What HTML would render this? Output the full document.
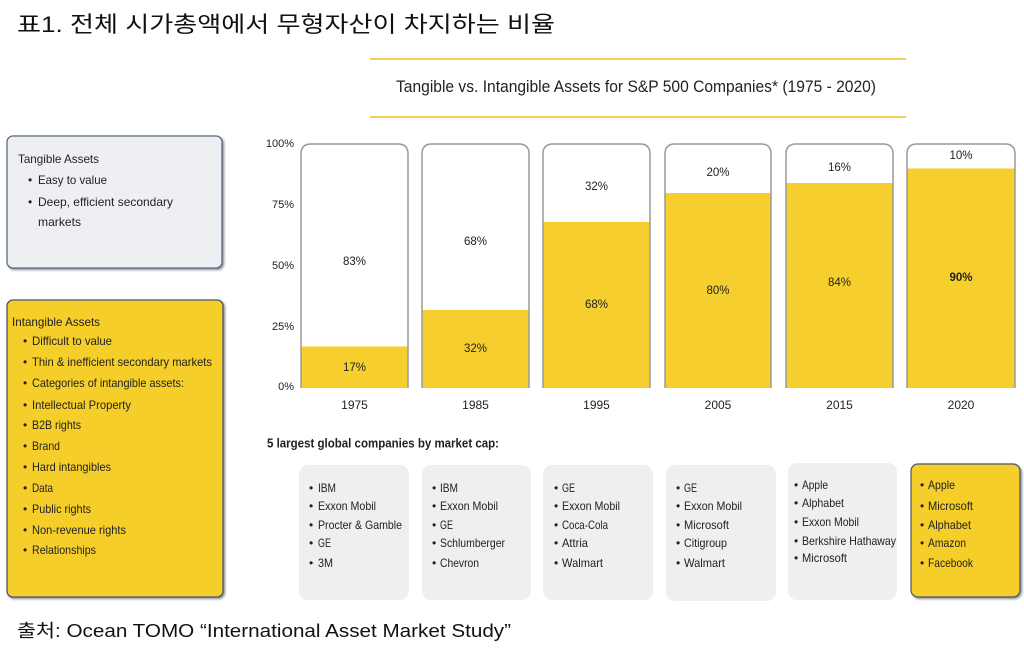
<!DOCTYPE html>
<html><head><meta charset="utf-8">
<style>
html,body{margin:0;padding:0;background:#fff;}
svg{display:block;}
.k{font-family:"Liberation Sans","Noto Sans CJK KR",sans-serif;}
.s{font-family:"Liberation Sans",sans-serif;}
</style></head><body>
<svg width="1024" height="655" viewBox="0 0 1024 655" xmlns="http://www.w3.org/2000/svg">
<defs>
<filter id="sh" x="-5%" y="-5%" width="110%" height="110%">
<feDropShadow dx="1.5" dy="1.5" stdDeviation="1" flood-color="#3a4558" flood-opacity="0.6"/>
</filter>
</defs>
<rect width="1024" height="655" fill="#fff"/>

<!-- page title -->
<text class="k" x="17" y="32" font-size="22" fill="#111" textLength="538" lengthAdjust="spacingAndGlyphs">표1. 전체 시가총액에서 무형자산이 차지하는 비율</text>

<!-- chart title -->
<line x1="370" y1="59" x2="906" y2="59" stroke="#F3CF55" stroke-width="2"/>
<line x1="370" y1="117" x2="906" y2="117" stroke="#F3CF55" stroke-width="2"/>
<text class="s" x="396" y="87" font-size="16.5" fill="#222" dominant-baseline="central" textLength="480" lengthAdjust="spacingAndGlyphs">Tangible vs. Intangible Assets for S&amp;P 500 Companies* (1975 - 2020)</text>

<!-- tangible box -->
<rect x="7" y="136" width="215" height="132" rx="6" fill="#EEEFF2" stroke="#5C6B80" stroke-width="1.3" filter="url(#sh)"/>
<g class="s" font-size="12" fill="#222" dominant-baseline="central">
<text x="18" y="159" textLength="81" lengthAdjust="spacingAndGlyphs">Tangible Assets</text>
<text x="28" y="180">•</text><text x="38" y="180" textLength="69" lengthAdjust="spacingAndGlyphs">Easy to value</text>
<text x="28" y="202">•</text><text x="38" y="202" textLength="135" lengthAdjust="spacingAndGlyphs">Deep, efficient secondary</text>
<text x="38" y="222" textLength="43" lengthAdjust="spacingAndGlyphs">markets</text>
</g>

<!-- intangible box -->
<rect x="7" y="300" width="216" height="297" rx="6" fill="#F6CE2C" stroke="#4E5566" stroke-width="1.3" filter="url(#sh)"/>
<g class="s" font-size="12" fill="#222" dominant-baseline="central">
<text x="12" y="322" textLength="88" lengthAdjust="spacingAndGlyphs">Intangible Assets</text>
<text x="23" y="341">•</text><text x="32" y="341" textLength="80" lengthAdjust="spacingAndGlyphs">Difficult to value</text>
<text x="23" y="362">•</text><text x="32" y="362" textLength="180" lengthAdjust="spacingAndGlyphs">Thin &amp; inefficient secondary markets</text>
<text x="23" y="383">•</text><text x="32" y="383" textLength="152" lengthAdjust="spacingAndGlyphs">Categories of intangible assets:</text>
<text x="23" y="405">•</text><text x="32" y="405" textLength="99" lengthAdjust="spacingAndGlyphs">Intellectual Property</text>
<text x="23" y="425">•</text><text x="32" y="425" textLength="49" lengthAdjust="spacingAndGlyphs">B2B rights</text>
<text x="23" y="446">•</text><text x="32" y="446" textLength="28" lengthAdjust="spacingAndGlyphs">Brand</text>
<text x="23" y="467">•</text><text x="32" y="467" textLength="79" lengthAdjust="spacingAndGlyphs">Hard intangibles</text>
<text x="23" y="488">•</text><text x="32" y="488" textLength="21" lengthAdjust="spacingAndGlyphs">Data</text>
<text x="23" y="509">•</text><text x="32" y="509" textLength="59" lengthAdjust="spacingAndGlyphs">Public rights</text>
<text x="23" y="530">•</text><text x="32" y="530" textLength="94" lengthAdjust="spacingAndGlyphs">Non-revenue rights</text>
<text x="23" y="550">•</text><text x="32" y="550" textLength="64" lengthAdjust="spacingAndGlyphs">Relationships</text>
</g>

<!-- y axis labels -->
<g class="s" font-size="11" fill="#222" text-anchor="end" dominant-baseline="central">
<text x="294" y="144">100%</text>
<text x="294" y="205">75%</text>
<text x="294" y="266">50%</text>
<text x="294" y="327">25%</text>
<text x="294" y="387">0%</text>
</g>

<!-- bars -->
<g>
<rect x="301" y="346.5" width="107" height="41.5" fill="#F6CF2E"/>
<path d="M301,388 V154 Q301,144 311,144 H398 Q408,144 408,154 V388" fill="none" stroke="#9a9a9a" stroke-width="1.5"/>
<rect x="422" y="310" width="107" height="78" fill="#F6CF2E"/>
<path d="M422,388 V154 Q422,144 432,144 H519 Q529,144 529,154 V388" fill="none" stroke="#9a9a9a" stroke-width="1.5"/>
<rect x="543" y="222" width="107" height="166" fill="#F6CF2E"/>
<path d="M543,388 V154 Q543,144 553,144 H640 Q650,144 650,154 V388" fill="none" stroke="#9a9a9a" stroke-width="1.5"/>
<rect x="665" y="193" width="106" height="195" fill="#F6CF2E"/>
<path d="M665,388 V154 Q665,144 675,144 H761 Q771,144 771,154 V388" fill="none" stroke="#9a9a9a" stroke-width="1.5"/>
<rect x="786" y="183" width="107" height="205" fill="#F6CF2E"/>
<path d="M786,388 V154 Q786,144 796,144 H883 Q893,144 893,154 V388" fill="none" stroke="#9a9a9a" stroke-width="1.5"/>
<rect x="907" y="168.5" width="108" height="219.5" fill="#F6CF2E"/>
<path d="M907,388 V154 Q907,144 917,144 H1005 Q1015,144 1015,154 V388" fill="none" stroke="#9a9a9a" stroke-width="1.5"/>
</g>

<!-- bar value labels -->
<g class="s" font-size="11.5" fill="#222" text-anchor="middle" dominant-baseline="central">
<text x="354.5" y="262">83%</text><text x="354.5" y="368">17%</text>
<text x="475.5" y="242">68%</text><text x="475.5" y="349">32%</text>
<text x="596.5" y="187">32%</text><text x="596.5" y="305">68%</text>
<text x="718" y="173">20%</text><text x="718" y="291">80%</text>
<text x="839.5" y="168">16%</text><text x="839.5" y="283">84%</text>
<text x="961" y="156">10%</text><text x="961" y="278" font-weight="bold">90%</text>
</g>

<!-- year labels -->
<g class="s" font-size="12" fill="#222" text-anchor="middle" dominant-baseline="central">
<text x="354.5" y="405">1975</text>
<text x="475.5" y="405">1985</text>
<text x="596.5" y="405">1995</text>
<text x="718" y="405">2005</text>
<text x="839.5" y="405">2015</text>
<text x="961" y="405">2020</text>
</g>

<text class="s" x="267" y="443" font-size="13" font-weight="bold" fill="#222" dominant-baseline="central" textLength="232" lengthAdjust="spacingAndGlyphs">5 largest global companies by market cap:</text>

<!-- company boxes -->
<rect x="299" y="465" width="110" height="135" rx="9" fill="#EFEFEF"/>
<rect x="422" y="465" width="109" height="135" rx="9" fill="#EFEFEF"/>
<rect x="543" y="465" width="110" height="135" rx="9" fill="#EFEFEF"/>
<rect x="666" y="465" width="110" height="136" rx="9" fill="#EFEFEF"/>
<rect x="788" y="463" width="109" height="137" rx="9" fill="#EFEFEF"/>
<rect x="911" y="464" width="109" height="133" rx="7" fill="#F6CE2C" stroke="#4E5566" stroke-width="1.2" filter="url(#sh)"/>

<g class="s" font-size="12" fill="#222" dominant-baseline="central">
<text x="309" y="488">•</text><text x="318" y="488" textLength="18" lengthAdjust="spacingAndGlyphs">IBM</text>
<text x="309" y="506">•</text><text x="318" y="506" textLength="58" lengthAdjust="spacingAndGlyphs">Exxon Mobil</text>
<text x="309" y="525">•</text><text x="318" y="525" textLength="84" lengthAdjust="spacingAndGlyphs">Procter &amp; Gamble</text>
<text x="309" y="543">•</text><text x="318" y="543" textLength="13" lengthAdjust="spacingAndGlyphs">GE</text>
<text x="309" y="563">•</text><text x="318" y="563" textLength="15" lengthAdjust="spacingAndGlyphs">3M</text>

<text x="432" y="488">•</text><text x="440" y="488" textLength="18" lengthAdjust="spacingAndGlyphs">IBM</text>
<text x="432" y="506">•</text><text x="440" y="506" textLength="58" lengthAdjust="spacingAndGlyphs">Exxon Mobil</text>
<text x="432" y="525">•</text><text x="440" y="525" textLength="13" lengthAdjust="spacingAndGlyphs">GE</text>
<text x="432" y="543">•</text><text x="440" y="543" textLength="65" lengthAdjust="spacingAndGlyphs">Schlumberger</text>
<text x="432" y="563">•</text><text x="440" y="563" textLength="39" lengthAdjust="spacingAndGlyphs">Chevron</text>

<text x="554" y="488">•</text><text x="562" y="488" textLength="13" lengthAdjust="spacingAndGlyphs">GE</text>
<text x="554" y="506">•</text><text x="562" y="506" textLength="58" lengthAdjust="spacingAndGlyphs">Exxon Mobil</text>
<text x="554" y="525">•</text><text x="562" y="525" textLength="46" lengthAdjust="spacingAndGlyphs">Coca-Cola</text>
<text x="554" y="543">•</text><text x="562" y="543" textLength="26" lengthAdjust="spacingAndGlyphs">Attria</text>
<text x="554" y="563">•</text><text x="562" y="563" textLength="41" lengthAdjust="spacingAndGlyphs">Walmart</text>

<text x="676" y="488">•</text><text x="684" y="488" textLength="13" lengthAdjust="spacingAndGlyphs">GE</text>
<text x="676" y="506">•</text><text x="684" y="506" textLength="58" lengthAdjust="spacingAndGlyphs">Exxon Mobil</text>
<text x="676" y="525">•</text><text x="684" y="525" textLength="45" lengthAdjust="spacingAndGlyphs">Microsoft</text>
<text x="676" y="543">•</text><text x="684" y="543" textLength="43" lengthAdjust="spacingAndGlyphs">Citigroup</text>
<text x="676" y="563">•</text><text x="684" y="563" textLength="41" lengthAdjust="spacingAndGlyphs">Walmart</text>

<text x="794" y="485">•</text><text x="802" y="485" textLength="26" lengthAdjust="spacingAndGlyphs">Apple</text>
<text x="794" y="503">•</text><text x="802" y="503" textLength="42" lengthAdjust="spacingAndGlyphs">Alphabet</text>
<text x="794" y="522">•</text><text x="802" y="522" textLength="57" lengthAdjust="spacingAndGlyphs">Exxon Mobil</text>
<text x="794" y="541">•</text><text x="802" y="541" textLength="94" lengthAdjust="spacingAndGlyphs">Berkshire Hathaway</text>
<text x="794" y="558">•</text><text x="802" y="558" textLength="45" lengthAdjust="spacingAndGlyphs">Microsoft</text>

<text x="920" y="485">•</text><text x="928" y="485" textLength="27" lengthAdjust="spacingAndGlyphs">Apple</text>
<text x="920" y="506">•</text><text x="928" y="506" textLength="45" lengthAdjust="spacingAndGlyphs">Microsoft</text>
<text x="920" y="525">•</text><text x="928" y="525" textLength="43" lengthAdjust="spacingAndGlyphs">Alphabet</text>
<text x="920" y="543">•</text><text x="928" y="543" textLength="38" lengthAdjust="spacingAndGlyphs">Amazon</text>
<text x="920" y="563">•</text><text x="928" y="563" textLength="45" lengthAdjust="spacingAndGlyphs">Facebook</text>
</g>

<!-- footer -->
<text class="k" x="17" y="637" font-size="18" fill="#111" textLength="494" lengthAdjust="spacingAndGlyphs">출처: Ocean TOMO “International Asset Market Study”</text>
</svg>
</body></html>
